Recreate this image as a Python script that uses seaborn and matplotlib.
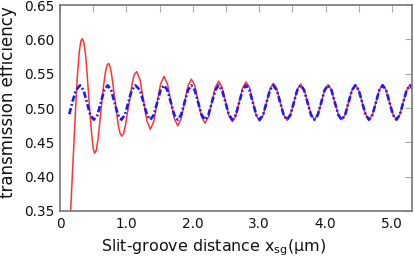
import matplotlib
matplotlib.use('Agg')
import matplotlib.pyplot as plt
import seaborn as sns
import pandas as pd
from matplotlib.ticker import MultipleLocator, FuncFormatter

# red curve (solid)
x_red = [0.140, 0.170, 0.200, 0.230, 0.260, 0.290, 0.315, 0.336, 0.360, 0.385,
         0.410, 0.430, 0.455, 0.480, 0.500, 0.520, 0.545, 0.570, 0.595, 0.625,
         0.655, 0.685, 0.710, 0.735, 0.760, 0.785, 0.830, 0.880, 0.905, 0.930,
         0.955, 0.985, 1.040, 1.095, 1.120, 1.154,
         1.206, 1.257, 1.309, 1.360, 1.411, 1.463, 1.514, 1.566, 1.617, 1.669,
         1.720, 1.772, 1.823, 1.875, 1.926, 1.977, 2.029, 2.080, 2.132, 2.183,
         2.235, 2.286, 2.338, 2.389, 2.440, 2.492, 2.543, 2.595, 2.646, 2.698,
         2.749, 2.800, 2.852, 2.903, 2.955, 3.006, 3.058, 3.109, 3.161, 3.212,
         3.264, 3.315, 3.367, 3.418, 3.469, 3.521, 3.572, 3.624, 3.675, 3.727,
         3.778, 3.830, 3.881, 3.933, 3.984, 4.035, 4.087, 4.138, 4.190, 4.241,
         4.293, 4.344, 4.396, 4.447, 4.498, 4.550, 4.601, 4.653, 4.704, 4.756,
         4.807, 4.858, 4.910, 4.962, 5.013, 5.064, 5.116, 5.167, 5.219, 5.270,
         5.322]
y_red = [0.310, 0.370, 0.430, 0.490, 0.545, 0.582, 0.598, 0.601, 0.595, 0.577,
         0.548, 0.520, 0.487, 0.458, 0.441, 0.434, 0.438, 0.453, 0.475, 0.504,
         0.532, 0.553, 0.563, 0.565, 0.558, 0.543, 0.510, 0.473, 0.463, 0.459,
         0.462, 0.475, 0.507, 0.540, 0.549, 0.553,
         0.541, 0.511, 0.481, 0.469, 0.480, 0.508, 0.535, 0.546, 0.535, 0.510,
         0.485, 0.474, 0.484, 0.508, 0.532, 0.542, 0.533, 0.510, 0.487, 0.478,
         0.487, 0.508, 0.530, 0.539, 0.530, 0.509, 0.489, 0.480, 0.488, 0.509,
         0.529, 0.538, 0.530, 0.509, 0.489, 0.481, 0.489, 0.508, 0.528, 0.536,
         0.528, 0.509, 0.490, 0.482, 0.490, 0.508, 0.527, 0.535, 0.527, 0.509,
         0.491, 0.483, 0.490, 0.508, 0.526, 0.534, 0.526, 0.508, 0.491, 0.483,
         0.490, 0.508, 0.526, 0.534, 0.526, 0.508, 0.491, 0.483, 0.490, 0.508,
         0.526, 0.534, 0.526, 0.508, 0.491, 0.483, 0.490, 0.508, 0.526, 0.534,
         0.526]

# blue curve (dash-dot)
x_blue = [0.140, 0.190, 0.240, 0.300, 0.355, 0.405, 0.455, 0.510, 0.565, 0.615,
          0.665, 0.718, 0.770, 0.821, 0.872, 0.925, 0.977, 1.028, 1.080, 1.135,
          1.206, 1.257, 1.309, 1.360, 1.411, 1.463, 1.514, 1.566, 1.617, 1.669,
          1.720, 1.772, 1.823, 1.875, 1.926, 1.977, 2.029, 2.080, 2.132, 2.183,
          2.235, 2.286, 2.338, 2.389, 2.440, 2.492, 2.543, 2.595, 2.646, 2.698,
          2.749, 2.800, 2.852, 2.903, 2.955, 3.006, 3.058, 3.109, 3.161, 3.212,
          3.264, 3.315, 3.367, 3.418, 3.469, 3.521, 3.572, 3.624, 3.675, 3.727,
          3.778, 3.830, 3.881, 3.933, 3.984, 4.035, 4.087, 4.138, 4.190, 4.241,
          4.293, 4.344, 4.396, 4.447, 4.498, 4.550, 4.601, 4.653, 4.704, 4.756,
          4.807, 4.858, 4.910, 4.962, 5.013, 5.064, 5.116, 5.167, 5.219, 5.270,
          5.322]
y_blue = [0.491, 0.510, 0.526, 0.533, 0.526, 0.508, 0.490, 0.483, 0.490, 0.508,
          0.526, 0.533, 0.526, 0.508, 0.490, 0.483, 0.490, 0.508, 0.526, 0.533,
          0.526, 0.508, 0.490, 0.483, 0.490, 0.508, 0.526, 0.533, 0.526, 0.508,
          0.490, 0.483, 0.490, 0.508, 0.526, 0.533, 0.526, 0.508, 0.490, 0.483,
          0.490, 0.508, 0.526, 0.533, 0.526, 0.508, 0.490, 0.483, 0.490, 0.508,
          0.526, 0.533, 0.526, 0.508, 0.490, 0.483, 0.490, 0.508, 0.526, 0.533,
          0.526, 0.508, 0.490, 0.483, 0.490, 0.508, 0.526, 0.533, 0.526, 0.508,
          0.490, 0.483, 0.490, 0.508, 0.526, 0.533, 0.526, 0.508, 0.490, 0.483,
          0.490, 0.508, 0.526, 0.533, 0.526, 0.508, 0.490, 0.483, 0.490, 0.508,
          0.526, 0.533, 0.526, 0.508, 0.490, 0.483, 0.490, 0.508, 0.526, 0.533,
          0.526]

red = pd.DataFrame({'x': x_red, 'y': y_red})
blue = pd.DataFrame({'x': x_blue, 'y': y_blue})

sns.set_style("white")
plt.rcParams['font.family'] = ['DejaVu Sans']

fig = plt.figure(figsize=(4.15, 2.64), dpi=100)
ax = fig.add_axes([0.1446, 0.2008, 0.8482, 0.7802])

sns.lineplot(x='x', y='y', data=red, ax=ax, color='#ff3333', linewidth=1.1,
             estimator=None, sort=False)
sns.lineplot(x='x', y='y', data=blue, ax=ax, color='#1a1aff', linewidth=1.9,
             linestyle=(0, (2.4, 0.9, 0.7, 0.9)), estimator=None, sort=False)

ax.set_xlim(0, 5.3)
ax.set_ylim(0.35, 0.65)
ax.xaxis.set_major_locator(MultipleLocator(1.0))
ax.xaxis.set_minor_locator(MultipleLocator(0.5))
ax.xaxis.set_major_formatter(FuncFormatter(lambda v, p: '0' if v == 0 else '%.1f' % v))
ax.yaxis.set_major_locator(MultipleLocator(0.05))
ax.yaxis.set_major_formatter(FuncFormatter(lambda v, p: '%.2f' % v))

for s in ax.spines.values():
    s.set_color('#777777')
    s.set_linewidth(1.2)
ax.tick_params(which='both', direction='in', length=5, width=0.8, color='#aaaaaa',
               top=True, right=True, labelsize=9.8, labelcolor='#111111', pad=4)

ax.set_xlabel(r'Slit-groove distance x$_{\mathregular{sg}}$(µm)', fontsize=11.4,
              color='#111111')
ax.set_ylabel('transmission efficiency', fontsize=12, color='#111111')
ax.xaxis.set_label_coords(0.435, -0.13)
ax.yaxis.set_label_coords(-0.122, 0.53)

fig.savefig('out.png', dpi=100)
